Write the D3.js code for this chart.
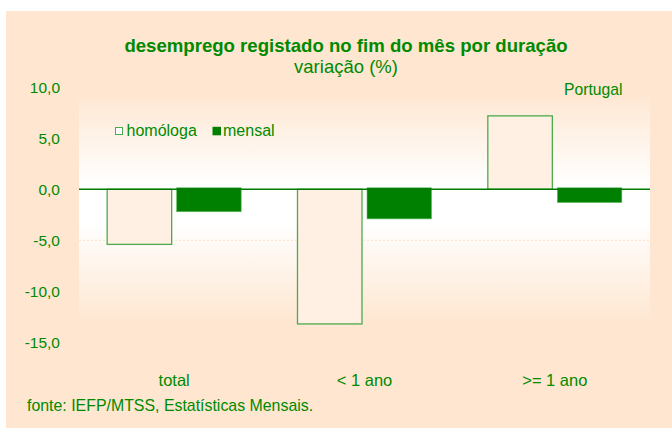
<!DOCTYPE html>
<html><head><meta charset="utf-8">
<script src="https://cdn.jsdelivr.net/npm/d3@7"></script>
<style>body{margin:0;background:#fff}svg{display:block}text{font-family:Arial,"Liberation Sans",sans-serif}</style>
</head><body><svg id="c" width="672" height="428"></svg>
<script>
const categories = ["total", "< 1 ano", ">= 1 ano"];
const homologa = [-5.4, -13.2, 7.2];
const mensal = [-2.2, -2.9, -1.3];
const yTicks = [10, 5, 0, -5, -10, -15];
const seriesNames = ["homóloga", "mensal"];

const green = "#008000";
const textGreen = "#008a00";
const svg = d3.select("#c");
svg.append("rect").attr("x", 6).attr("y", 11).attr("width", 666).attr("height", 417).attr("fill", "#fee6d0");

const defs = svg.append("defs");
const g = defs.append("linearGradient").attr("id", "pg").attr("x1", 0).attr("y1", 0).attr("x2", 0).attr("y2", 1);
[[0, "#fee8d4"], [0.38, "#ffffff"], [0.55, "#ffffff"], [1, "#fee6d0"]].forEach(([o, c]) => g.append("stop").attr("offset", o).attr("stop-color", c));

const y = d3.scaleLinear().domain([-15, 10]).range([342.3, 87.3]);
const x0 = d3.scaleBand().domain(categories).range([79, 650]).paddingInner(0).paddingOuter(0);
const x1 = d3.scaleBand().domain(seriesNames).range([0, x0.bandwidth()]).paddingInner(0.072).paddingOuter(0.405);

svg.append("rect").attr("x", 79).attr("y", 97).attr("width", 571).attr("height", 228).attr("fill", "url(#pg)");

// gridline at -5 (faint)
svg.append("line").attr("x1", 79).attr("x2", 650).attr("y1", y(-5)).attr("y2", y(-5))
  .attr("stroke", "#fbd9bd").attr("stroke-width", 0.8).attr("stroke-dasharray", "2,2");

// axis labels
const yAxis = d3.axisLeft(y).tickValues(yTicks).tickSize(0).tickPadding(0)
  .tickFormat(d => d3.format(".1f")(d).replace(".", ",").replace("−", "-"));
const ya = svg.append("g").attr("transform", "translate(60,0)").call(yAxis);
ya.select(".domain").remove();
ya.selectAll("text").attr("fill", textGreen).attr("font-size", 15.5).attr("font-family", "Arial").attr("dy", "0.36em");

// bars
categories.forEach((c, i) => {
  const v = homologa[i];
  svg.append("rect").attr("x", x0(c) + x1("homóloga")).attr("width", x1.bandwidth())
    .attr("y", y(Math.max(0, v))).attr("height", Math.abs(y(v) - y(0)))
    .attr("fill", "#fff0e3").attr("stroke", "#4caa4c").attr("stroke-width", 1.3);
  const m = mensal[i];
  svg.append("rect").attr("x", x0(c) + x1("mensal")).attr("width", x1.bandwidth())
    .attr("y", y(Math.max(0, m)) - 1.5).attr("height", Math.abs(y(m) - y(0)) + 1.5)
    .attr("fill", green).attr("stroke", "#66b866").attr("stroke-width", 0.6);
});

// zero line
svg.append("line").attr("x1", 79).attr("x2", 650).attr("y1", y(0)).attr("y2", y(0))
  .attr("stroke", "#007a00").attr("stroke-width", 1.4);

// category labels
const xa = svg.append("g").attr("transform", "translate(0,385.5)").call(d3.axisBottom(x0).tickSize(0).tickPadding(0));
xa.select(".domain").remove();
xa.selectAll("text").attr("fill", textGreen).attr("font-size", 16.5).attr("font-family", "Arial").attr("dy", 0);

// titles
svg.append("text").attr("x", 346).attr("y", 51.5).attr("text-anchor", "middle").attr("font-size", 18.6).attr("font-weight", "bold").attr("fill", textGreen).text("desemprego registado no fim do mês por duração");
svg.append("text").attr("x", 346).attr("y", 73).attr("text-anchor", "middle").attr("font-size", 18.5).attr("fill", textGreen).text("variação (%)");
svg.append("text").attr("x", 622.5).attr("y", 95).attr("text-anchor", "end").attr("font-size", 15.7).attr("fill", textGreen).text("Portugal");

// legend
svg.append("rect").attr("x", 115.5).attr("y", 127.5).attr("width", 7).attr("height", 7).attr("fill", "#fff").attr("stroke", "#4caa4c").attr("stroke-width", 1);
svg.append("text").attr("x", 126.5).attr("y", 135.7).attr("font-size", 16).attr("fill", textGreen).text(seriesNames[0]);
svg.append("rect").attr("x", 212.5).attr("y", 126.8).attr("width", 8.5).attr("height", 8.5).attr("fill", green);
svg.append("text").attr("x", 223).attr("y", 135.7).attr("font-size", 16).attr("fill", textGreen).text(seriesNames[1]);

svg.append("text").attr("x", 27).attr("y", 410.5).attr("font-size", 15.9).attr("fill", textGreen).text("fonte: IEFP/MTSS, Estatísticas Mensais.");
</script></body></html>
